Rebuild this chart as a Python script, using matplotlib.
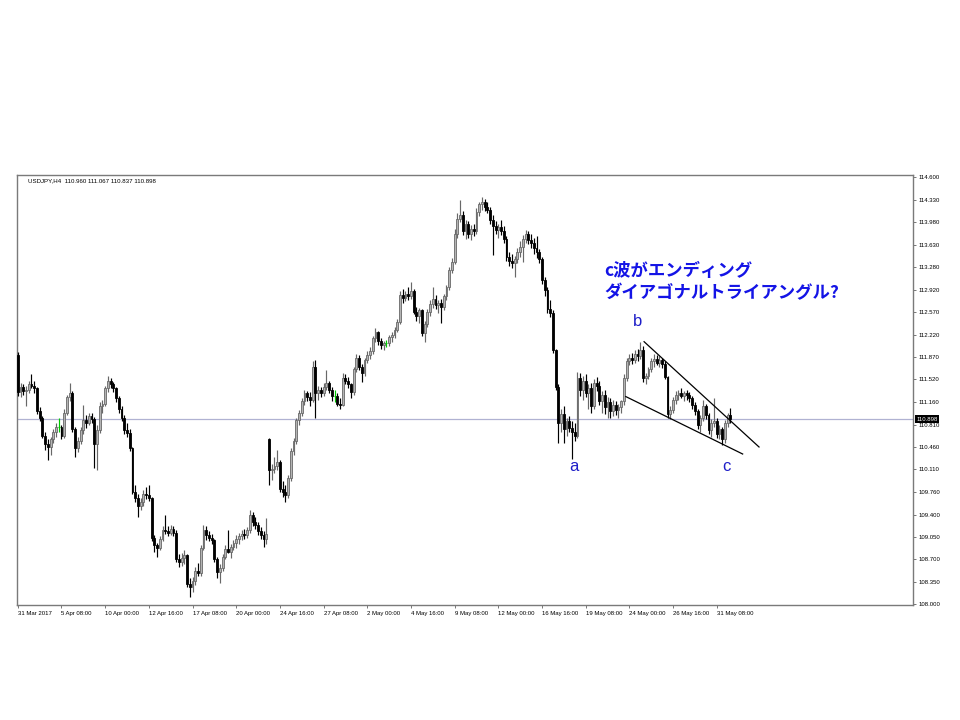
import matplotlib
matplotlib.use("Agg")
import matplotlib.pyplot as plt
import matplotlib.transforms as mtransforms
import numpy as np

plt.rcParams['font.family'] = ['Liberation Sans', 'Noto Sans CJK JP', 'DejaVu Sans']

symbol = "USDJPY,H4"

# H4 candles, 31 Mar 2017 16:00 .. 1 Jun 2017 04:00 (six bars per trading day)
opens = [
    111.90, 111.32,
    111.40, 111.33, 111.36, 111.45, 111.42, 111.38,
    111.02, 110.92, 110.64, 110.50, 110.46, 110.58,
    110.70, 110.78, 110.78, 110.64, 111.00, 111.24,
    111.30, 110.74, 110.44, 110.56, 110.72, 110.88,
    110.84, 110.94, 110.90, 110.50, 110.72, 111.10,
    111.14, 111.38, 111.50, 111.44, 111.38, 111.22,
    111.05, 110.92, 110.72, 110.68, 110.44, 109.76,
    109.66, 109.54, 109.60, 109.72, 109.70, 109.66,
    109.04, 108.92, 108.88, 109.02, 109.16, 109.15,
    109.12, 109.18, 109.12, 108.70, 108.66, 108.72,
    108.76, 108.32, 108.26, 108.36, 108.52, 108.48,
    108.88, 109.16, 109.08, 109.04, 109.00, 108.70,
    108.50, 108.56, 108.74, 108.86, 108.82, 108.90,
    108.96, 109.02, 109.06, 109.10, 109.08, 109.16,
    109.40, 109.28, 109.24, 109.14, 109.08, 109.02,
    110.58, 110.10, 110.12, 110.16, 110.22, 109.80,
    109.75, 109.70, 109.97, 110.40, 110.55, 110.88,
    111.00, 111.18, 111.30, 111.24, 111.20, 111.72,
    111.30, 111.36, 111.30, 111.40, 111.46, 111.36,
    111.26, 111.26, 111.14, 111.12, 111.54, 111.50,
    111.44, 111.32, 111.68, 111.86, 111.72, 111.62,
    111.82, 111.90, 111.96, 112.16, 112.26, 112.12,
    112.06, 112.09, 112.09, 112.18, 112.22, 112.30,
    112.42, 112.84, 112.80, 112.86, 112.82, 112.90,
    112.58, 112.52, 112.60, 112.24, 112.38, 112.58,
    112.70, 112.78, 112.68, 112.72, 112.66, 112.82,
    112.96, 113.24, 113.36, 113.80, 114.04, 114.10,
    113.84, 113.96, 113.80, 113.88, 113.84, 114.14,
    114.26, 114.30, 114.22, 114.18, 114.02, 113.92,
    113.86, 113.90, 113.84, 113.72, 113.44, 113.38,
    113.34, 113.40, 113.52, 113.60, 113.72, 113.80,
    113.70, 113.66, 113.58, 113.52, 113.40, 113.08,
    112.92, 112.62, 112.56, 111.98, 111.40, 110.84,
    110.98, 110.74, 110.86, 110.76, 110.70, 110.64,
    111.54, 111.36, 111.50, 111.30, 111.38, 111.10,
    111.46, 111.42, 111.18, 111.28, 111.08, 111.16,
    111.02, 111.12, 111.04, 111.08, 111.18, 111.54,
    111.80, 111.86, 111.82, 111.92, 111.88, 111.98,
    111.54, 111.58, 111.68, 111.80, 111.84, 111.78,
    111.82, 111.76, 111.56, 110.98, 111.04, 111.20,
    111.28, 111.30, 111.26, 111.30, 111.28, 111.22,
    111.12, 111.02, 110.80, 110.92, 111.10, 110.96,
    110.72, 110.84, 110.86, 110.66, 110.74, 110.58,
    110.84, 110.960,
]

highs = [
    111.95, 111.46,
    111.45, 111.42, 111.50, 111.60, 111.50, 111.40,
    111.08, 110.95, 110.70, 110.58, 110.62, 110.74,
    110.84, 110.92, 110.80, 111.05, 111.28, 111.46,
    111.34, 110.78, 110.62, 110.78, 111.12, 110.96,
    111.00, 111.00, 110.93, 110.80, 111.16, 111.20,
    111.42, 111.57, 111.54, 111.48, 111.40, 111.26,
    111.10, 110.96, 110.84, 110.74, 110.46, 109.86,
    109.72, 109.66, 109.78, 109.84, 109.86, 109.68,
    109.08, 108.96, 109.06, 109.22, 109.39, 109.22,
    109.24, 109.22, 109.16, 108.78, 108.80, 108.84,
    108.78, 108.40, 108.42, 108.58, 108.64, 108.92,
    109.24, 109.22, 109.14, 109.10, 109.02, 108.74,
    108.62, 108.78, 108.92, 109.16, 108.94, 109.00,
    109.08, 109.12, 109.16, 109.18, 109.20, 109.47,
    109.44, 109.36, 109.28, 109.20, 109.14, 109.35,
    110.60, 110.20, 110.30, 110.42, 110.26, 109.92,
    109.86, 110.02, 110.44, 110.60, 110.92, 111.04,
    111.22, 111.36, 111.34, 111.32, 111.80, 111.82,
    111.42, 111.40, 111.46, 111.66, 111.50, 111.40,
    111.36, 111.30, 111.22, 111.62, 111.60, 111.56,
    111.46, 111.72, 111.92, 111.90, 111.76, 111.86,
    111.96, 112.02, 112.20, 112.32, 112.28, 112.16,
    112.12, 112.14, 112.22, 112.26, 112.34, 112.46,
    112.90, 112.94, 112.90, 112.96, 113.04, 112.94,
    112.66, 112.64, 112.62, 112.44, 112.62, 112.76,
    112.97, 112.84, 112.76, 112.78, 112.86, 113.00,
    113.28, 113.42, 113.88, 114.12, 114.33, 114.16,
    114.02, 114.00, 113.94, 113.96, 114.20, 114.30,
    114.38, 114.34, 114.30, 114.22, 114.10, 114.00,
    113.96, 114.02, 113.92, 113.76, 113.52, 113.48,
    113.46, 113.58, 113.68, 113.78, 113.86, 113.84,
    113.80, 113.74, 113.76, 113.56, 113.44, 113.12,
    112.96, 112.76, 112.60, 112.00, 111.44, 111.06,
    111.10, 110.92, 110.94, 110.86, 110.84, 111.64,
    111.62, 111.58, 111.60, 111.44, 111.46, 111.52,
    111.56, 111.50, 111.34, 111.36, 111.24, 111.22,
    111.20, 111.18, 111.14, 111.20, 111.60, 111.86,
    111.92, 111.94, 111.98, 112.00, 112.11, 112.04,
    111.62, 111.72, 111.86, 111.92, 111.90, 111.88,
    111.86, 111.80, 111.58, 111.10, 111.24, 111.34,
    111.36, 111.38, 111.34, 111.36, 111.32, 111.26,
    111.16, 111.06, 110.96, 111.20, 111.14, 111.00,
    110.90, 111.23, 110.92, 110.80, 110.78, 110.88,
    111.00, 111.067,
]

lows = [
    111.26, 111.25,
    111.28, 111.10, 111.30, 111.38, 111.30, 110.98,
    110.86, 110.60, 110.42, 110.26, 110.34, 110.52,
    110.62, 110.70, 110.58, 110.60, 110.96, 111.18,
    110.70, 110.30, 110.38, 110.50, 110.66, 110.76,
    110.80, 110.84, 110.13, 110.10, 110.68, 111.00,
    111.10, 111.32, 111.38, 111.32, 111.16, 111.00,
    110.86, 110.66, 110.62, 110.40, 109.72, 109.60,
    109.36, 109.48, 109.54, 109.64, 109.62, 108.98,
    108.82, 108.74, 108.84, 108.98, 109.10, 109.06,
    109.08, 109.06, 108.66, 108.58, 108.60, 108.62,
    108.26, 108.11, 108.18, 108.30, 108.44, 108.44,
    108.84, 109.00, 108.98, 108.94, 108.66, 108.40,
    108.33, 108.52, 108.70, 108.80, 108.72, 108.84,
    108.88, 108.94, 109.00, 109.02, 109.04, 109.12,
    109.22, 109.18, 109.08, 109.02, 108.90, 108.94,
    109.86, 109.95, 110.06, 110.10, 109.76, 109.67,
    109.60, 109.66, 109.92, 110.34, 110.50, 110.80,
    110.94, 111.12, 111.18, 111.10, 111.16, 110.92,
    111.20, 111.24, 111.26, 111.36, 111.30, 111.18,
    111.16, 111.10, 111.06, 111.10, 111.44, 111.38,
    111.22, 111.28, 111.64, 111.66, 111.48, 111.58,
    111.78, 111.84, 111.92, 112.10, 112.06, 112.00,
    111.98, 112.03, 112.04, 112.10, 112.16, 112.26,
    112.38, 112.72, 112.74, 112.76, 112.78, 112.54,
    112.44, 112.40, 112.20, 112.11, 112.34, 112.52,
    112.64, 112.62, 112.56, 112.40, 112.60, 112.76,
    112.92, 113.18, 113.32, 113.74, 113.98, 113.78,
    113.72, 113.74, 113.70, 113.76, 113.80, 114.08,
    114.18, 114.16, 114.12, 113.96, 113.47, 113.80,
    113.74, 113.78, 113.66, 113.38, 113.30, 113.26,
    113.12, 113.34, 113.44, 113.36, 113.66, 113.64,
    113.58, 113.48, 113.42, 113.34, 113.02, 112.82,
    112.56, 112.50, 111.94, 111.36, 110.52, 110.70,
    110.52, 110.64, 110.70, 110.27, 110.56, 110.60,
    111.26, 111.20, 111.24, 111.06, 111.00, 111.06,
    111.34, 111.12, 111.00, 110.98, 110.92, 110.92,
    110.94, 110.96, 110.92, 111.00, 111.12, 111.50,
    111.74, 111.76, 111.78, 111.80, 111.84, 111.48,
    111.44, 111.52, 111.64, 111.72, 111.74, 111.72,
    111.70, 111.52, 110.92, 110.90, 111.00, 111.14,
    111.20, 111.22, 111.18, 111.20, 111.16, 111.06,
    110.96, 110.74, 110.70, 110.86, 110.90, 110.66,
    110.62, 110.78, 110.60, 110.58, 110.49, 110.52,
    110.78, 110.837,
]

closes = [
    111.32, 111.40,
    111.33, 111.36, 111.45, 111.42, 111.38, 111.02,
    110.92, 110.64, 110.50, 110.46, 110.58, 110.70,
    110.78, 110.78, 110.64, 111.00, 111.24, 111.30,
    110.74, 110.44, 110.56, 110.72, 110.88, 110.84,
    110.94, 110.90, 110.50, 110.72, 111.10, 111.14,
    111.38, 111.50, 111.44, 111.38, 111.22, 111.05,
    110.92, 110.72, 110.68, 110.44, 109.76, 109.66,
    109.54, 109.60, 109.72, 109.70, 109.66, 109.04,
    108.92, 108.88, 109.02, 109.16, 109.15, 109.12,
    109.18, 109.12, 108.70, 108.66, 108.72, 108.76,
    108.32, 108.26, 108.36, 108.52, 108.48, 108.88,
    109.16, 109.08, 109.04, 109.00, 108.70, 108.50,
    108.56, 108.74, 108.86, 108.82, 108.90, 108.96,
    109.02, 109.06, 109.10, 109.08, 109.16, 109.40,
    109.28, 109.24, 109.14, 109.08, 109.02, 109.10,
    110.10, 110.12, 110.16, 110.22, 109.80, 109.75,
    109.70, 109.97, 110.40, 110.55, 110.88, 111.00,
    111.18, 111.30, 111.24, 111.20, 111.72, 111.30,
    111.36, 111.30, 111.40, 111.46, 111.36, 111.26,
    111.26, 111.14, 111.12, 111.54, 111.50, 111.44,
    111.32, 111.68, 111.86, 111.72, 111.62, 111.82,
    111.90, 111.96, 112.16, 112.26, 112.12, 112.06,
    112.09, 112.09, 112.18, 112.22, 112.30, 112.42,
    112.84, 112.80, 112.86, 112.82, 112.90, 112.58,
    112.52, 112.60, 112.24, 112.38, 112.58, 112.70,
    112.78, 112.68, 112.72, 112.66, 112.82, 112.96,
    113.24, 113.36, 113.80, 114.04, 114.10, 113.84,
    113.96, 113.80, 113.88, 113.84, 114.14, 114.26,
    114.30, 114.22, 114.18, 114.02, 113.92, 113.86,
    113.90, 113.84, 113.72, 113.44, 113.38, 113.34,
    113.40, 113.52, 113.60, 113.72, 113.80, 113.70,
    113.66, 113.58, 113.52, 113.40, 113.08, 112.92,
    112.62, 112.56, 111.98, 111.40, 110.84, 110.98,
    110.74, 110.86, 110.76, 110.70, 110.64, 111.54,
    111.36, 111.50, 111.30, 111.38, 111.10, 111.46,
    111.42, 111.18, 111.28, 111.08, 111.16, 111.02,
    111.12, 111.04, 111.08, 111.18, 111.54, 111.80,
    111.86, 111.82, 111.92, 111.88, 111.98, 111.54,
    111.58, 111.68, 111.80, 111.84, 111.78, 111.82,
    111.76, 111.56, 110.98, 111.04, 111.20, 111.28,
    111.30, 111.26, 111.30, 111.28, 111.22, 111.12,
    111.02, 110.80, 110.92, 111.10, 110.96, 110.72,
    110.84, 110.86, 110.66, 110.74, 110.58, 110.84,
    110.96, 110.898,
]

# time axis: bar index of each label and its text
date_ticks = [0, 16, 32, 48, 64, 80, 96, 112, 128, 144, 160, 176, 192, 208, 224, 240, 256]
date_labels = ["31 Mar 2017", "5 Apr 08:00", "10 Apr 00:00", "12 Apr 16:00", "17 Apr 08:00",
               "20 Apr 00:00", "24 Apr 16:00", "27 Apr 08:00", "2 May 00:00", "4 May 16:00",
               "9 May 08:00", "12 May 00:00", "16 May 16:00", "19 May 08:00", "24 May 00:00",
               "26 May 16:00", "31 May 08:00"]

# price axis
price_ticks = [108.00, 108.35, 108.70, 109.05, 109.40, 109.76, 110.11, 110.46, 110.81,
               111.16, 111.52, 111.87, 112.22, 112.57, 112.92, 113.28, 113.63, 113.98,
               114.33, 114.69]
price_labels = ["108.000", "108.350", "108.700", "109.050", "109.400", "109.760", "110.110",
                "110.460", "110.810", "111.160", "111.520", "111.870", "112.220", "112.570",
                "112.920", "113.280", "113.630", "113.980", "114.330", "114.600"]

# wedge trend lines (bar index, price)
upper_line_x = [229.4, 271.5]
upper_line_y = [112.11, 110.46]
lower_line_x = [222.7, 265.5]
lower_line_y = [111.25, 110.35]

wave_names = ["a", "b", "c"]
wave_x = [203.7, 227.1, 259.7]
wave_y = [110.15, 112.42, 110.15]

note_lines = ["c波がエンディング", "ダイアゴナルトライアングル?"]
note_x = 214.7
note_y = [113.22, 112.87]

# ---------------------------------------------------------------------------
fig = plt.figure(figsize=(9.6, 7.2), dpi=100)
fig.patch.set_facecolor("white")
ax = fig.add_axes([17 / 960, 115 / 720, 896 / 960, 430 / 720])
ax.set_facecolor("white")

o = np.array(opens)
h = np.array(highs)
l = np.array(lows)
c = np.array(closes)
x = np.arange(len(c))

flat = np.isclose(o, c)
up = (c > o) & ~flat
down = (c < o) & ~flat

bull_edge = "#686868"
bull_fill = "#b4b4b4"
body_w = 0.68

ax.vlines(x[up], l[up], h[up], color=bull_edge, lw=0.85, zorder=3)
ax.bar(x[up], (c - o)[up], bottom=o[up], width=body_w, color=bull_fill,
       edgecolor=bull_edge, linewidth=0.6, zorder=4)
ax.vlines(x[down], l[down], h[down], color="black", lw=0.85, zorder=3)
ax.bar(x[down], (o - c)[down], bottom=c[down], width=body_w, color="black",
       edgecolor="black", linewidth=0.6, zorder=4)
ax.vlines(x[flat], l[flat], h[flat], color="#00c800", lw=0.85, zorder=3)
ax.hlines(c[flat], x[flat] - 0.35, x[flat] + 0.35, color="#00c800", lw=0.85, zorder=4)

# bid line at the last close
ax.axhline(closes[-1], color="#b0b2d2", lw=0.9, zorder=2)

# wedge lines
ax.plot(upper_line_x, upper_line_y, color="black", lw=0.9, zorder=5)
ax.plot(lower_line_x, lower_line_y, color="black", lw=0.9, zorder=5)

# wave labels
for name, wx, wy in zip(wave_names, wave_x, wave_y):
    ax.text(wx, wy, name, fontsize=12, color="#1e1ec8", ha="center", va="center",
            family=["Liberation Sans"], zorder=6)

for line, ny in zip(note_lines, note_y):
    ax.text(note_x, ny, line, fontsize=12.5, fontweight="bold", color="#1414e6",
            ha="left", va="center", family=["Noto Sans CJK JP", "DejaVu Sans"], zorder=6)

# header with symbol and last bar OHLC
ax.text(0.0123, 0.986,
        f"{symbol}  {opens[-1]:.3f} {highs[-1]:.3f} {lows[-1]:.3f} {closes[-1]:.3f}",
        transform=ax.transAxes, fontsize=4.4, ha="left", va="center", color="black")

# axes
ax.set_xlim(-0.3, 327.9)
ax.set_ylim(107.984, 114.722)
ax.yaxis.tick_right()
ax.set_yticks(price_ticks, price_labels)
ax.set_xticks(date_ticks, date_labels)
for lab in ax.get_xticklabels():
    lab.set_horizontalalignment("left")
ax.tick_params(axis="both", labelsize=4.3, length=2.5, width=0.6, color="#606060",
               labelcolor="black", pad=1.5, direction="out")
for sp in ax.spines.values():
    sp.set_color("#7a7a7a")
    sp.set_linewidth(1.0)

# last price tag on the price axis
trans = mtransforms.blended_transform_factory(ax.transAxes, ax.transData)
ax.text(1.0035, closes[-1], f"{closes[-1]:.3f}", transform=trans, fontsize=4.3,
        color="white", ha="left", va="center", clip_on=False, zorder=10,
        bbox=dict(facecolor="black", edgecolor="none", pad=0.8))

fig.savefig("out.png", dpi=100, facecolor="white")
